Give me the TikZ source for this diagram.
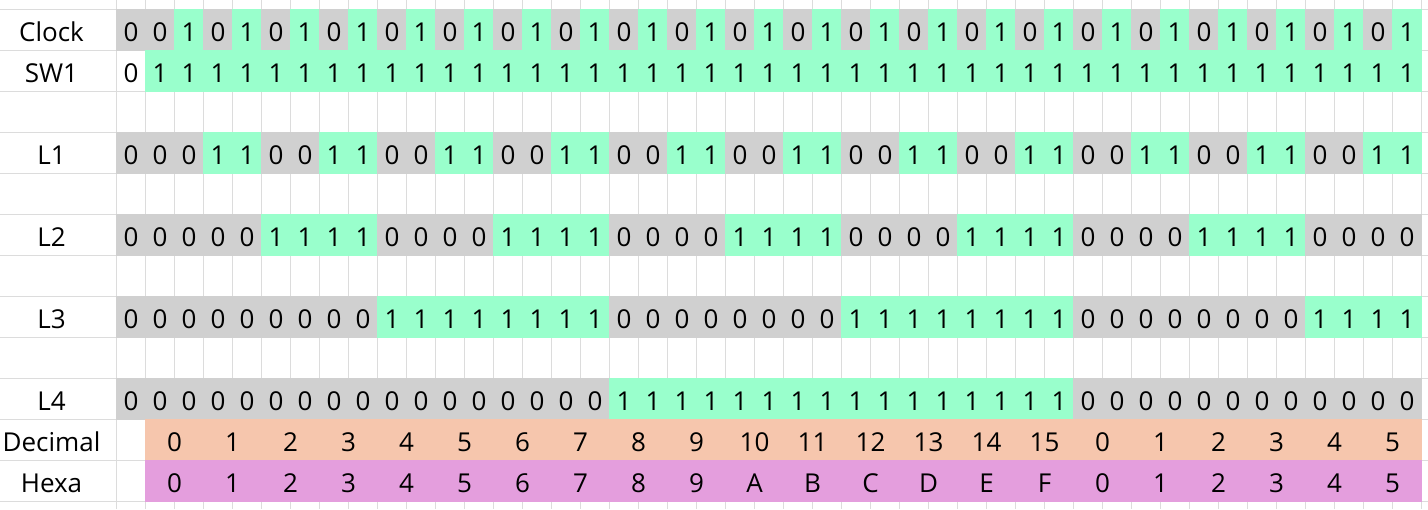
\documentclass[tikz,border=0pt]{standalone}
\usepackage{fontspec}
\setmainfont{Open Sans}
\definecolor{gridc}{HTML}{DCDCDC}
\definecolor{cell0}{HTML}{D0D0D0}
\definecolor{cell1}{HTML}{99FFCC}
\definecolor{deccol}{HTML}{F6C6AD}
\definecolor{hexcol}{HTML}{E49EDD}
\tikzset{
  txt/.style={anchor=base, font=\fontsize{13pt}{15pt}\selectfont, inner sep=0pt, text=black},
  gridline/.style={draw=gridc, line width=0.5pt},
}
\begin{document}
\begin{tikzpicture}[x=0.5pt,y=-0.5pt]
\useasboundingbox (0,0) rectangle (1428,509);
\fill[white] (0,0) rectangle (1428,509);
% grid lines
\foreach \k in {0,...,12} \draw[gridline] (0,{9+41*\k}) -- (1428,{9+41*\k});
\foreach \k in {0,...,45} \draw[gridline] ({116.5+29*\k},0) -- ({116.5+29*\k},509);
% binary rows
\foreach \name/\p/\r in {Clock/1/0, L1/2/3, L2/4/5, L3/8/7, L4/16/9}{
  \node[txt] (lab-\name) at (51.5,{9+41*\r+32}) {\name};
  \foreach \c in {1,...,45}{
    \pgfmathtruncatemacro\v{\c==1 ? 0 : mod(floor((\c-2)/\p),2)}
    \fill[cell\v] ({116.5+29*(\c-1)-0.5},{9+41*\r-0.5}) rectangle ({116.5+29*\c+0.5},{9+41*(\r+1)+0.5});
    \node[txt] (\name-\c) at ({116.5+29*(\c-0.5)},{9+41*\r+32}) {\v};
  }
}
% SW1 row
\node[txt] (lab-SW1) at (51.5,{9+41+32}) {SW1};
\node[txt] (SW1-1) at ({116.5+14.5},{9+41+32}) {0};
\fill[cell1] (145,49.5) rectangle (1422,91.5);
\foreach \c in {2,...,45}{
  \node[txt] (SW1-\c) at ({116.5+29*(\c-0.5)},{9+41+32}) {1};
}
% Decimal row
\node[txt] (lab-Dec) at (51.5,{9+41*10+32}) {Decimal};
\fill[deccol] (145,418.5) rectangle (1422,460.5);
\foreach \j in {0,...,21}{
  \pgfmathtruncatemacro\d{mod(\j,16)}
  \node[txt] (Dec-\j) at ({174.5+58*\j},{9+41*10+32}) {\d};
}
% Hexa row
\node[txt] (lab-Hex) at (51.5,{9+41*11+32}) {Hexa};
\fill[hexcol] (145,459.5) rectangle (1422,501.5);
\foreach \h [count=\j from 0] in {0,1,2,3,4,5,6,7,8,9,A,B,C,D,E,F,0,1,2,3,4,5}{
  \node[txt] (Hex-\j) at ({174.5+58*\j},{9+41*11+32}) {\h};
}
\end{tikzpicture}
\end{document}
